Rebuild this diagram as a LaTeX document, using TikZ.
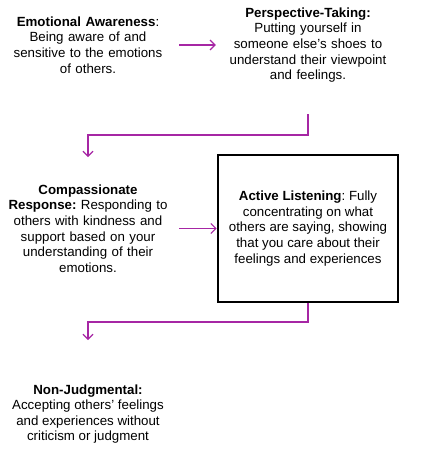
\documentclass[tikz,border=0pt]{standalone}
\usepackage{fontspec}
\setmainfont{Liberation Sans}
\usepackage{xcolor}
\usetikzlibrary{positioning,arrows.meta,calc}
\definecolor{flowpurple}{RGB}{166,38,164}
\frenchspacing

\begin{document}
\begin{tikzpicture}[
    x=1pt,y=-1pt,
    font=\fontsize{13.3}{15.6}\selectfont,
    txt/.style={align=center,inner sep=0pt},
    arr/.style={-{Straight Barb[length=5pt,width=10pt]},draw=flowpurple,line width=1.1pt},
    box/.style={draw,line width=2.8pt,minimum width=180pt,minimum height=147pt}
  ]
    \useasboundingbox (0,0) rectangle (432,455);

    \node[txt,text width=150pt] (aware) at (88,45) {\textbf{Emotional Awareness}:\\Being aware of and\\sensitive to the emotions\\of others.};
    \node[txt,text width=160pt] (persp) at (308,45) {\textbf{Perspective-Taking:}\\Putting yourself in\\someone else's shoes to\\understand their viewpoint\\and feelings.};
    \draw[arr,shorten <=16pt,shorten >=12pt] (aware.east) -- (persp.west);

    \node[box] (listen) at (308,228.5) {};
    \node[txt] (listentxt) at (listen.center) {\textbf{Active Listening}: Fully\\concentrating on what\\others are saying, showing\\that you care about their\\feelings and experiences};
    \node[txt,text width=174pt] (comp) at (88,228.5) {\textbf{Compassionate}\\\textbf{Response:} Responding to\\others with kindness and\\support based on your\\understanding of their\\emotions.};

    \coordinate (k1) at (308,114);
    \coordinate (t1) at (88,157);
    \draw[arr] (k1) -- (308,135) -| (t1);
    \draw[arr,shorten <=4pt] (comp.east) -- (listen.west);

    \node[txt] (nonjudge) at (88,414) {\textbf{Non-Judgmental:}\\Accepting others' feelings\\and experiences without\\criticism or judgment};
    \coordinate (t2) at (88,340);
    \draw[arr] (listen.south) -- (308,322) -| (t2);
  \end{tikzpicture}
\end{document}
